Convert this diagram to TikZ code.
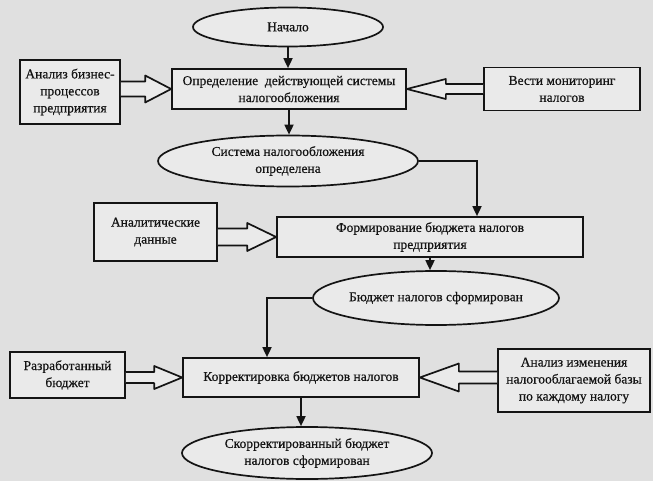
\documentclass[tikz,border=0pt]{standalone}
\usepackage{fontspec}
\setmainfont{Liberation Serif}
\newfontfamily\scanfont[FakeBold=0.6]{Liberation Serif}
\usetikzlibrary{shapes.geometric,calc,arrows.meta}
\definecolor{paper}{RGB}{224,224,224}
\definecolor{boxfill}{RGB}{234,234,234}
\definecolor{ink}{RGB}{20,20,20}
\tikzset{
  lbl/.style={font=\scanfont\fontsize{13.5}{17}\selectfont, text=ink},
  box/.style={lbl, draw=ink, line width=1.7pt, fill=boxfill, rectangle, align=center, inner sep=2pt},
  oval/.style={lbl, draw=ink, line width=1.7pt, fill=boxfill, ellipse, align=center, inner sep=0pt},
  conn/.style={draw=ink, line width=1.7pt, -{Triangle[length=10pt,width=9pt]}},
  block/.style={draw=ink, line width=1.7pt, fill=boxfill, line join=round}
}
% right-pointing block arrow: from, to, shaft half, head half, head length
\newcommand{\blockR}[5]{%
  \draw[block] ($(#1.east |- #2.west)+(0,-#3)$) -- ($(#2.west)+(-#5,-#3)$) -- ($(#2.west)+(-#5,-#4)$)
    -- (#2.west) -- ($(#2.west)+(-#5,#4)$) -- ($(#2.west)+(-#5,#3)$) -- ($(#1.east |- #2.west)+(0,#3)$);}
% left-pointing block arrow
\newcommand{\blockL}[5]{%
  \draw[block] ($(#1.west |- #2.east)+(0,-#3)$) -- ($(#2.east)+(#5,-#3)$) -- ($(#2.east)+(#5,-#4)$)
    -- (#2.east) -- ($(#2.east)+(#5,#4)$) -- ($(#2.east)+(#5,#3)$) -- ($(#1.west |- #2.east)+(0,#3)$);}
\begin{document}
\begin{tikzpicture}[x=1pt,y=-1pt]
\fill[paper] (0,0) rectangle (653,481);
\useasboundingbox (0,0) rectangle (653,481);

\node[oval, minimum width=190pt, minimum height=39pt] (start) at (288,27) {Начало};
\node[box, minimum width=234pt, minimum height=40pt] (opr) at (289,89) {Определение~~действующей системы\\налогообложения};
\node[box, minimum width=100pt, minimum height=64pt] (a1) at (70,92) {Анализ бизнес-\\процессов\\предприятия};
\node[box, minimum width=156pt, minimum height=43pt] (a2) at (562,89) {Вести мониторинг\\налогов};
\node[oval, minimum width=260pt, minimum height=51pt] (sys) at (288,161) {Система налогообложения\\определена};
\node[box, minimum width=306pt, minimum height=40pt] (form) at (430,237) {Формирование бюджета налогов\\предприятия};
\node[box, minimum width=123pt, minimum height=58pt] (anal) at (155.5,232) {Аналитические\\данные};
\node[oval, minimum width=246pt, minimum height=54pt] (bud) at (436,298) {Бюджет налогов сформирован};
\node[box, minimum width=236pt, minimum height=39pt] (korr) at (301,377.5) {Корректировка бюджетов налогов};
\node[box, minimum width=115pt, minimum height=46pt] (razr) at (67.5,375) {Разработанный\\бюджет};
\node[box, minimum width=152pt, minimum height=63pt] (izm) at (574,380.5) {Анализ изменения\\налогооблагаемой базы\\по каждому налогу};
\node[oval, minimum width=250pt, minimum height=52pt] (fin) at (307,453) {Скорректированный бюджет\\налогов сформирован};

\draw[conn] (start.south) -- (start.south |- opr.north);
\draw[conn] (opr.south) -- (opr.south |- sys.north);
\draw[conn] (sys.east) -| ([xshift=47pt]form.north);
\draw[conn] (form.south) -- (form.south |- bud.north);
\draw[conn] (bud.west) -| ([xshift=-34pt]korr.north);
\draw[conn] (korr.south) -- (korr.south |- fin.north);

\blockR{a1}{opr}{7.5}{13.5}{26}
\blockL{a2}{opr}{5}{10}{39}
\blockR{anal}{form}{8.5}{14}{29}
\blockR{razr}{korr}{5.5}{11.5}{28}
\blockL{izm}{korr}{6}{14}{39}
\end{tikzpicture}
\end{document}
